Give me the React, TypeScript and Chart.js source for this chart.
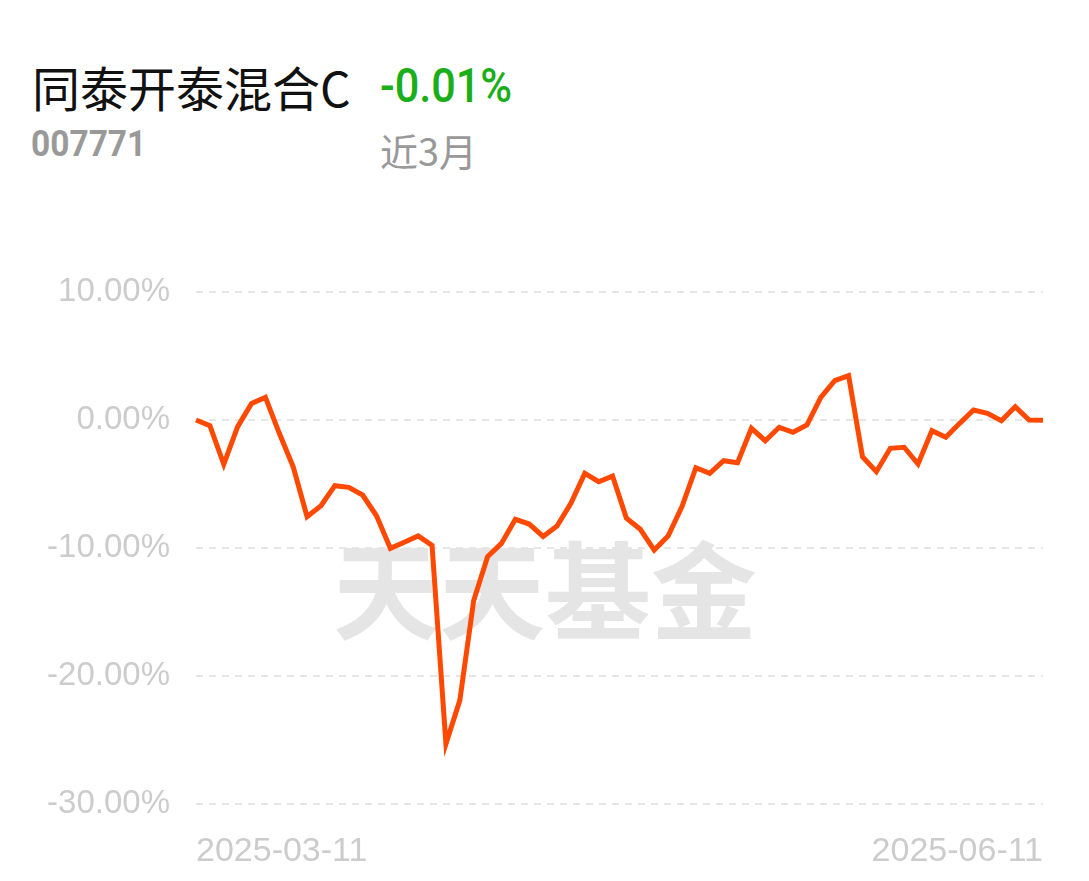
import React, { useEffect, useRef } from "react";
import { Chart, registerables } from "chart.js";

Chart.register(...registerables);

// Trading days, 2025-03-11 .. 2025-06-11
const marchDays = ["11", "12", "13", "14", "17", "18", "19", "20", "21", "24", "25", "26", "27", "28", "31"];
const aprilDays = ["01", "02", "03", "07", "08", "09", "10", "11", "14", "15", "16", "17", "18", "21", "22", "23", "24", "25", "28", "29", "30"];
const mayDays = ["06", "07", "08", "09", "12", "13", "14", "15", "16", "19", "20", "21", "22", "23", "26", "27", "28", "29", "30"];
const juneDays = ["03", "04", "05", "06", "09", "10", "11"];

const dates: string[] = [
  ...marchDays.map((d) => `2025-03-${d}`),
  ...aprilDays.map((d) => `2025-04-${d}`),
  ...mayDays.map((d) => `2025-05-${d}`),
  ...juneDays.map((d) => `2025-06-${d}`),
];

// Cumulative return (%)
const returns: number[] = [
  0.0, -0.45, -3.46, -0.52, 1.3, 1.77, -1.04, -3.65, -7.55, -6.7,
  -5.13, -5.26, -5.86, -7.48, -10.03, -9.55, -9.06, -9.8, -25.3, -21.9,
  -14.1, -10.68, -9.64, -7.76, -8.13, -9.1, -8.28, -6.5, -4.17, -4.82,
  -4.38, -7.68, -8.54, -10.16, -9.06, -6.77, -3.73, -4.17, -3.18, -3.34,
  -0.65, -1.62, -0.57, -0.96, -0.39, 1.77, 3.07, 3.46, -2.87, -4.04,
  -2.21, -2.13, -3.44, -0.83, -1.35, -0.26, 0.78, 0.52, -0.05, 1.04,
  0.0, -0.01,
];

const yTicks: number[] = [10, 0, -10, -20, -30];

const fundName = "同泰开泰混合C";
const fundCode = "007771";
const periodReturn = "-0.01%";
const periodLabel = "近3月";
const watermark = "天天基金";

const axisFont = '"Liberation Sans", Arial, Helvetica, sans-serif';

const watermarkPlugin = {
  id: "watermark",
  beforeDatasetsDraw(chart: Chart) {
    const ctx = chart.ctx;
    ctx.save();
    ctx.font = '700 106px "Noto Sans CJK SC", sans-serif';
    ctx.fillStyle = "#e5e5e5";
    ctx.textAlign = "left";
    ctx.textBaseline = "middle";
    ctx.fillText(watermark, 333, 391);
    ctx.restore();
  },
};

export default function App() {
  const canvasRef = useRef<HTMLCanvasElement | null>(null);

  useEffect(() => {
    if (!canvasRef.current) return;
    const last = dates.length - 1;
    const chart = new Chart(canvasRef.current, {
      type: "line",
      data: {
        labels: dates,
        datasets: [
          {
            data: returns,
            borderColor: "#ff4800",
            borderWidth: 5,
            pointRadius: 0,
            tension: 0,
            fill: false,
          },
        ],
      },
      plugins: [watermarkPlugin],
      options: {
        animation: false,
        responsive: false,
        devicePixelRatio: 1,
        layout: { padding: { left: 0, right: 46, top: 92, bottom: 0 } },
        plugins: { legend: { display: false }, tooltip: { enabled: false } },
        scales: {
          x: {
            grid: { display: false },
            border: { display: false },
            afterFit: (s: any) => {
              s.height = 77;
            },
            ticks: {
              autoSkip: false,
              maxRotation: 0,
              minRotation: 0,
              align: "inner",
              padding: 19,
              color: "#cccccc",
              font: { size: 34, family: axisFont },
              callback: (_v: any, i: number) => (i === 0 || i === last ? dates[i] : null),
            },
          },
          y: {
            min: -30,
            max: 10,
            afterFit: (s: any) => {
              s.width = 196;
            },
            afterBuildTicks: (s: any) => {
              s.ticks = yTicks.map((v) => ({ value: v }));
            },
            grid: { color: "#e6e6e6", lineWidth: 2, drawTicks: false },
            border: { display: false, dash: [7, 6] },
            ticks: {
              padding: 26,
              color: "#cccccc",
              font: { size: 33, family: axisFont },
              callback: (v: any) => `${Number(v).toFixed(2)}%`,
            },
          },
        },
      },
    });
    return () => chart.destroy();
  }, []);

  return (
    <div style={{ position: "fixed", left: 0, top: 0, width: 1089, height: 881, background: "#fff", overflow: "hidden" }}>
      <div
        style={{
          position: "absolute",
          left: 32,
          top: 59,
          fontFamily: '"Noto Sans CJK SC", sans-serif',
          fontSize: 48,
          lineHeight: "54px",
          color: "#111",
          whiteSpace: "nowrap",
        }}
      >
        {fundName}
      </div>
      <div
        style={{
          position: "absolute",
          left: 380,
          top: 60,
          fontFamily: "Roboto, sans-serif",
          fontWeight: 500,
          fontSize: 48,
          lineHeight: "52px",
          color: "#1aae1a",
          whiteSpace: "nowrap",
          transform: "scaleX(0.9)",
          transformOrigin: "left center",
        }}
      >
        {periodReturn}
      </div>
      <div
        style={{
          position: "absolute",
          left: 31,
          top: 123,
          fontFamily: "Roboto, sans-serif",
          fontWeight: 700,
          fontSize: 36,
          lineHeight: "42px",
          color: "#999",
          whiteSpace: "nowrap",
          transform: "scaleX(0.93)",
          transformOrigin: "left center",
        }}
      >
        {fundCode}
      </div>
      <div
        style={{
          position: "absolute",
          left: 380,
          top: 128,
          fontFamily: '"Noto Sans CJK SC", sans-serif',
          fontSize: 38,
          lineHeight: "44px",
          color: "#999",
          whiteSpace: "nowrap",
        }}
      >
        {periodLabel}
      </div>
      <canvas
        ref={canvasRef}
        width={1089}
        height={681}
        style={{ position: "absolute", left: 0, top: 200, width: 1089, height: 681 }}
      />
    </div>
  );
}
